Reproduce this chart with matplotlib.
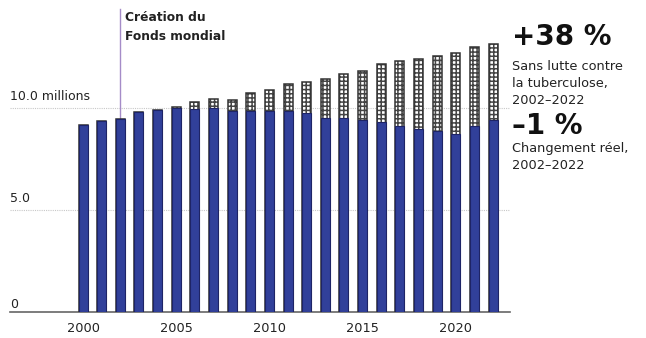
import matplotlib
matplotlib.use("Agg")
import matplotlib.pyplot as plt
import numpy as np

plt.rcParams['font.family'] = ['DejaVu Sans']
plt.rcParams['hatch.linewidth'] = 1.1

years = list(range(2000, 2023))
actual = [9.16, 9.34, 9.46, 9.79, 9.92, 9.98, 9.95, 10.0, 9.87, 9.87, 9.87, 9.87,
          9.73, 9.50, 9.53, 9.42, 9.29, 9.12, 8.99, 8.88, 8.74, 9.11, 9.42]
no_tb_control = [9.16, 9.34, 9.46, 9.79, 9.92, 10.03, 10.31, 10.43, 10.41, 10.71, 10.88, 11.16,
                 11.29, 11.42, 11.68, 11.83, 12.14, 12.28, 12.41, 12.56, 12.69, 12.97, 13.12]
xticks = [2000, 2005, 2010, 2015, 2020]
ygrid = [5.0, 10.0]
ylabels = ["5.0", "10.0 millions"]
event_year = 2002
event_label = "Création du\nFonds mondial"

W, H = 646, 338
fig = plt.figure(figsize=(W / 100, H / 100), dpi=100)
ax = fig.add_axes([10 / W, 26 / H, 500 / W, 312 / H])
ax.set_xlim(1996.08, 2022.91)
ax.set_ylim(0, 15.29)

extra = np.array(no_tb_control) - np.array(actual)
blue = '#31409a'
ax.bar(years, extra, bottom=actual, width=0.48, color='white', edgecolor='#444444',
       hatch='++++', linewidth=0, zorder=3)
ax.bar(years, no_tb_control, width=0.48, fill=False, edgecolor='#333333', linewidth=1.1, zorder=4)
ax.bar(years, actual, width=0.48, color=blue, edgecolor='#1e2466', linewidth=0.8, zorder=5)

for g, lab in zip(ygrid, ylabels):
    ax.axhline(g, color='#c8c8c8', linestyle=(0, (1, 1)), linewidth=0.8, zorder=1)
    ax.text(0.0, g + 0.22, lab, transform=ax.get_yaxis_transform(), ha='left', va='bottom',
            fontsize=9, color='#222222')
ax.text(0.0, 0.05, "0", transform=ax.get_yaxis_transform(), ha='left', va='bottom',
        fontsize=9, color='#222222')

idx = years.index(event_year)
ax.plot([event_year, event_year], [no_tb_control[idx], 14.85], color='#a58cc8', linewidth=1.0, zorder=2)
ax.text(event_year + 0.25, 14.75, event_label, ha='left', va='top', fontsize=8.8,
        fontweight='bold', color='#222222', linespacing=1.55)

for s in ['top', 'right', 'left']:
    ax.spines[s].set_visible(False)
ax.spines['bottom'].set_color('#666666')
ax.spines['bottom'].set_linewidth(1.2)
ax.set_yticks([])
ax.set_xticks(xticks)
ax.set_xticklabels([str(x) for x in xticks], fontsize=9.3, color='#222222')
ax.tick_params(axis='x', length=0, pad=7)

fig.text(512 / W, 1 - 37 / H, "+38 %", fontsize=20, fontweight='bold', color='#111111',
         ha='left', va='center')
fig.text(512 / W, 1 - 60 / H, "Sans lutte contre\nla tuberculose,\n2002\u20132022", fontsize=9.3,
         color='#222222', ha='left', va='top', linespacing=1.42)
fig.text(512 / W, 1 - 126 / H, "\u20131 %", fontsize=20, fontweight='bold', color='#111111',
         ha='left', va='center')
fig.text(512 / W, 1 - 142 / H, "Changement réel,\n2002\u20132022", fontsize=9.3,
         color='#222222', ha='left', va='top', linespacing=1.42)

fig.savefig('out.png', dpi=100)
